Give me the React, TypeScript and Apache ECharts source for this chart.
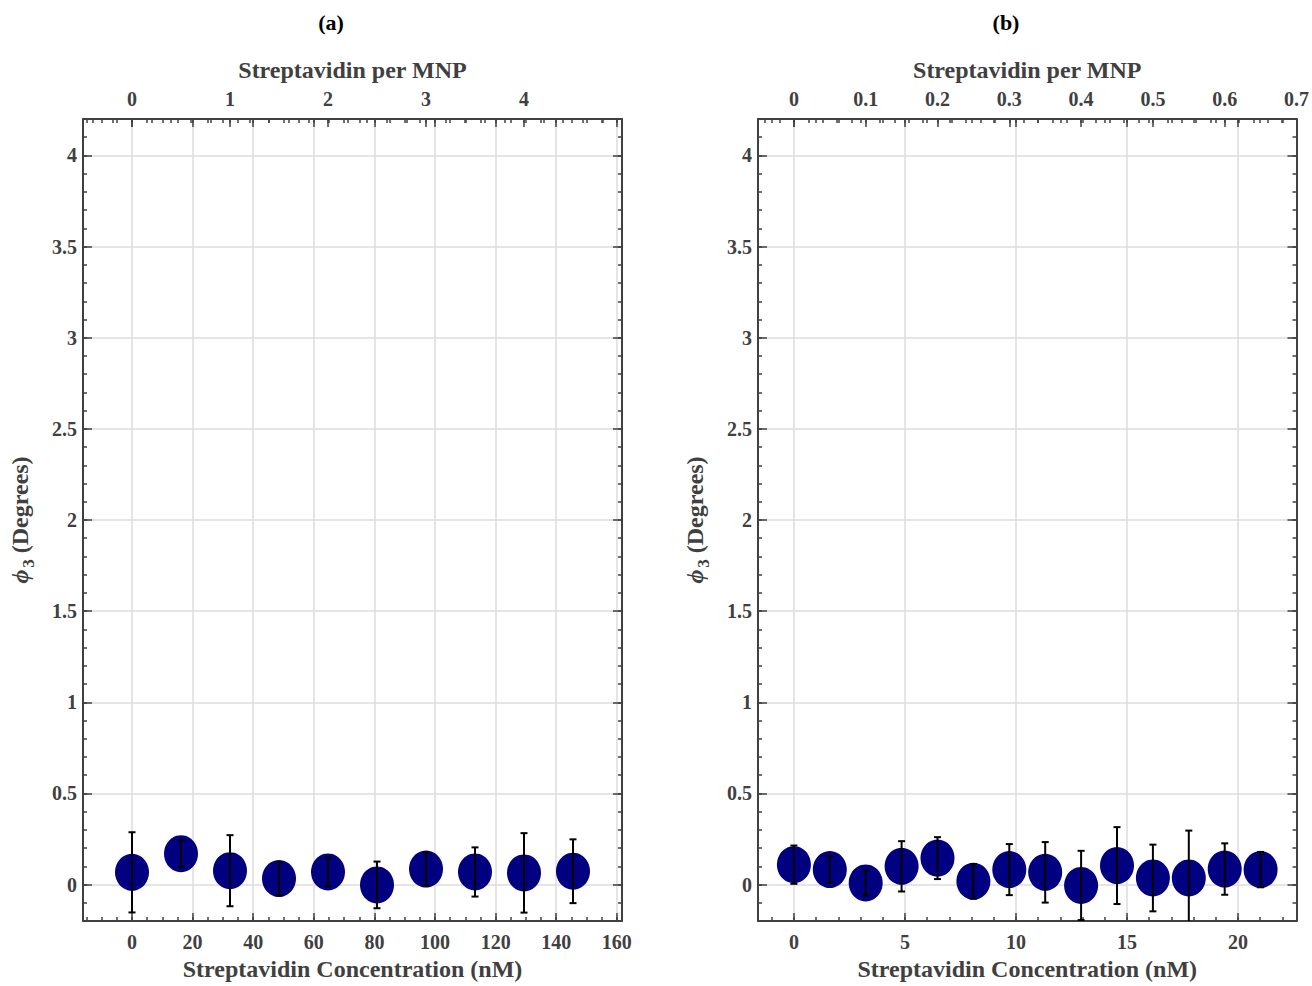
import React, { useEffect, useRef } from 'react';
import * as echarts from 'echarts';

// nM of streptavidin corresponding to one streptavidin per MNP
const NM_PER_MNP = 32.34;

// Panel (a)
const concA = [0, 16.17, 32.34, 48.51, 64.68, 80.85, 97.02, 113.19, 129.36, 145.53];
const phiA = [0.067, 0.169, 0.076, 0.033, 0.069, -0.002, 0.085, 0.069, 0.064, 0.073];
const errA = [0.22, 0.073, 0.195, 0.09, 0.078, 0.128, 0.093, 0.135, 0.218, 0.175];

// Panel (b)
const concB = [0, 1.617, 3.234, 4.851, 6.468, 8.085, 9.702, 11.319, 12.936, 14.553, 16.17, 17.787, 19.404, 21.021];
const phiB = [0.109, 0.082, 0.009, 0.1, 0.145, 0.018, 0.082, 0.067, -0.005, 0.104, 0.036, 0.036, 0.085, 0.082];
const errB = [0.105, 0.073, 0.068, 0.138, 0.115, 0.095, 0.14, 0.166, 0.19, 0.211, 0.183, 0.26, 0.141, 0.097];

// Tick labels
const yTicks = [0, 0.5, 1, 1.5, 2, 2.5, 3, 3.5, 4];
const xTicksA = [0, 20, 40, 60, 80, 100, 120, 140, 160];
const mnpTicksA = [0, 1, 2, 3, 4];
const xTicksB = [0, 5, 10, 15, 20];
const mnpTicksB = [0, 0.1, 0.2, 0.3, 0.4, 0.5, 0.6, 0.7];

const steps = (a: number, b: number, s: number) => {
  const r: number[] = [];
  for (let v = a; v <= b + 1e-9; v += s) r.push(Math.round(v * 1e6) / 1e6);
  return r;
};

const yMinor = steps(-0.2, 4.2, 0.1);
const xMinorA = steps(-15, 160, 5);
const mnpMinorA = steps(-0.4, 5, 0.2);
const xMinorB = steps(-1, 22, 1);
const mnpMinorB = steps(-0.04, 0.7, 0.02);

const AXC = '#404040';
const FONT = "'Liberation Serif', 'Times New Roman', serif";
const Y_MIN = -0.2;
const Y_MAX = 4.2;

const labelStyle = {
  show: true,
  color: AXC,
  fontFamily: FONT,
  fontWeight: 'bold',
  fontSize: 20,
  showMinLabel: true,
  showMaxLabel: true,
};

function tickAxis(gridIndex: number, position: string, min: number, max: number, ticks: number[], len: number, showLine: boolean, extra: any = {}) {
  return {
    type: 'value',
    gridIndex,
    position,
    min,
    max,
    axisLine: { show: showLine, onZero: false, lineStyle: { color: AXC, width: 2 } },
    axisTick: { show: true, inside: true, length: len, customValues: ticks, lineStyle: { color: AXC, width: 1.5 } },
    axisLabel: { show: false },
    splitLine: { show: false },
    ...extra,
  };
}

function panelAxes(g: number, xMin: number, xMax: number, xTicks: number[], xMinor: number[], mnpTicks: number[], mnpMinor: number[]) {
  const mMin = xMin / NM_PER_MNP;
  const mMax = xMax / NM_PER_MNP;
  const nameStyle = { color: AXC, fontFamily: FONT, fontWeight: 'bold', fontSize: 24 };
  const xAxes = [
    tickAxis(g, 'bottom', xMin, xMax, xTicks, 8, true, {
      axisLabel: { ...labelStyle, customValues: xTicks, margin: 11 },
      splitLine: { show: true, lineStyle: { color: '#dcdcdc', width: 1.5 } },
      name: 'Streptavidin Concentration (nM)',
      nameLocation: 'middle',
      nameGap: 36,
      nameTextStyle: nameStyle,
    }),
    tickAxis(g, 'bottom', xMin, xMax, xMinor, 4, false),
    tickAxis(g, 'top', xMin, xMax, xTicks, 8, true),
    tickAxis(g, 'top', xMin, xMax, xMinor, 4, false),
    tickAxis(g, 'top', mMin, mMax, mnpTicks, 8, false, {
      axisLabel: { ...labelStyle, customValues: mnpTicks, margin: 10 },
      name: 'Streptavidin per MNP',
      nameLocation: 'middle',
      nameGap: 37,
      nameTextStyle: nameStyle,
    }),
    tickAxis(g, 'top', mMin, mMax, mnpMinor, 4, false),
  ];
  const yAxes = [
    tickAxis(g, 'left', Y_MIN, Y_MAX, yTicks, 9, true, {
      axisLabel: { ...labelStyle, customValues: yTicks, margin: 6 },
      splitLine: { show: true, lineStyle: { color: '#dcdcdc', width: 1.5 } },
      name: '{phi|ϕ}{sub|3}{t| (Degrees)}',
      nameLocation: 'middle',
      nameRotate: 90,
      nameGap: 46,
      nameTextStyle: {
        ...nameStyle,
        rich: {
          phi: { fontFamily: FONT, fontStyle: 'italic', fontSize: 24, color: AXC },
          sub: { fontFamily: FONT, fontWeight: 'bold', fontSize: 17, color: AXC, padding: [18, 0, 0, 2] },
          t: { fontFamily: FONT, fontWeight: 'bold', fontSize: 24, color: AXC },
        },
      },
    }),
    tickAxis(g, 'left', Y_MIN, Y_MAX, yMinor, 4, false),
    tickAxis(g, 'right', Y_MIN, Y_MAX, yTicks, 9, true),
    tickAxis(g, 'right', Y_MIN, Y_MAX, yMinor, 4, false),
  ];
  return { xAxes, yAxes };
}

function errSeries(x: number[], y: number[], e: number[], xi: number, yi: number) {
  return {
    type: 'custom',
    xAxisIndex: xi,
    yAxisIndex: yi,
    clip: true,
    z: 5,
    data: x.map((v, i) => [v, y[i] - e[i], y[i] + e[i]]),
    renderItem: (_p: any, api: any) => {
      const lo = api.coord([api.value(0), api.value(1)]);
      const hi = api.coord([api.value(0), api.value(2)]);
      const w = 3.5;
      const style = { stroke: '#000', lineWidth: 2 };
      return {
        type: 'group',
        children: [
          { type: 'line', shape: { x1: lo[0], y1: lo[1], x2: hi[0], y2: hi[1] }, style },
          { type: 'line', shape: { x1: lo[0] - w, y1: lo[1], x2: lo[0] + w, y2: lo[1] }, style },
          { type: 'line', shape: { x1: hi[0] - w, y1: hi[1], x2: hi[0] + w, y2: hi[1] }, style },
        ],
      };
    },
  };
}

function scatterSeries(x: number[], y: number[], xi: number, yi: number) {
  return {
    type: 'scatter',
    xAxisIndex: xi,
    yAxisIndex: yi,
    symbol: 'circle',
    symbolSize: [34, 37],
    itemStyle: { color: '#000080', opacity: 1 },
    z: 3,
    data: x.map((v, i) => [v, y[i]]),
  };
}

export default function App() {
  const ref = useRef<HTMLDivElement>(null);
  useEffect(() => {
    if (!ref.current) return;
    const chart = echarts.init(ref.current, null, { renderer: 'svg' });
    const A = panelAxes(0, -0.5 * NM_PER_MNP, 5 * NM_PER_MNP, xTicksA, xMinorA, mnpTicksA, mnpMinorA);
    const B = panelAxes(1, -0.05 * NM_PER_MNP, 0.7 * NM_PER_MNP, xTicksB, xMinorB, mnpTicksB, mnpMinorB);
    const nxA = A.xAxes.length;
    const nyA = A.yAxes.length;
    chart.setOption({
      animation: false,
      backgroundColor: '#ffffff',
      textStyle: { fontFamily: FONT },
      title: [
        { text: '(a)', left: 326, top: 6, textAlign: 'center', textStyle: { fontFamily: FONT, fontWeight: 'bold', fontSize: 22, color: '#000' } },
        { text: '(b)', left: 1001, top: 6, textAlign: 'center', textStyle: { fontFamily: FONT, fontWeight: 'bold', fontSize: 22, color: '#000' } },
      ],
      grid: [
        { left: 83, top: 119, width: 539, height: 806 },
        { left: 758, top: 119, width: 541, height: 806 },
      ],
      xAxis: [...A.xAxes, ...B.xAxes],
      yAxis: [...A.yAxes, ...B.yAxes],
      series: [
        scatterSeries(concA, phiA, 0, 0),
        errSeries(concA, phiA, errA, 0, 0),
        scatterSeries(concB, phiB, nxA, nyA),
        errSeries(concB, phiB, errB, nxA, nyA),
      ],
    });
    return () => chart.dispose();
  }, []);
  return <div ref={ref} style={{ position: 'fixed', left: 0, top: 0, width: 1312, height: 986, background: '#fff' }} />;
}
